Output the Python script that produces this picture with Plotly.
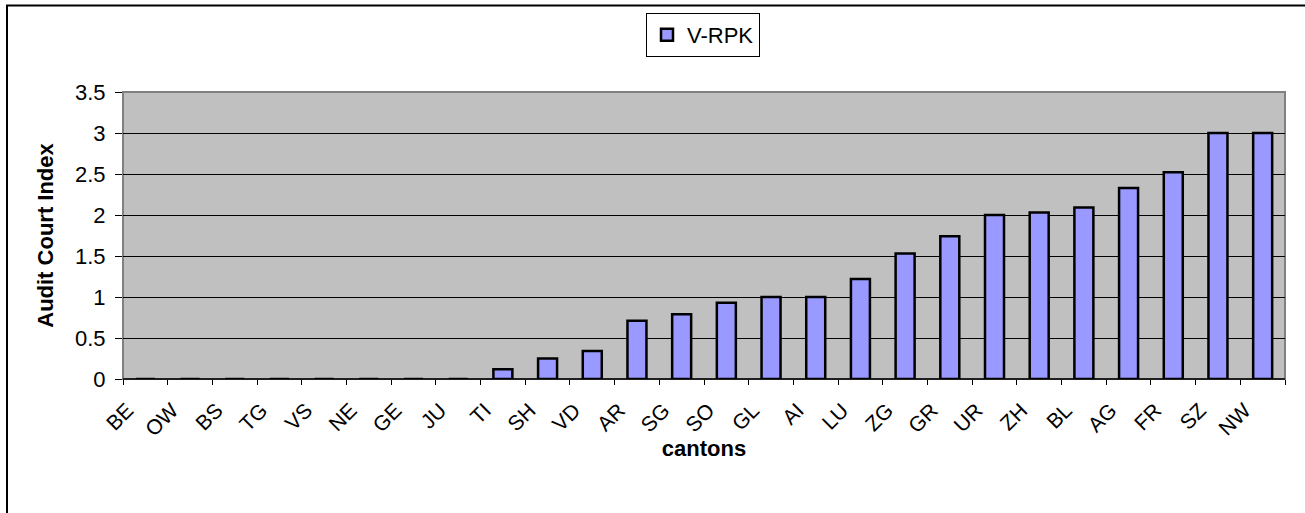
import plotly.graph_objects as go

cantons = ["BE", "OW", "BS", "TG", "VS", "NE", "GE", "JU", "TI", "SH", "VD", "AR", "SG",
           "SO", "GL", "AI", "LU", "ZG", "GR", "UR", "ZH", "BL", "AG", "FR", "SZ", "NW"]
v_rpk = [0, 0, 0, 0, 0, 0, 0, 0, 0.12, 0.25, 0.34, 0.71, 0.79,
         0.93, 1.0, 1.0, 1.22, 1.53, 1.74, 2.0, 2.03, 2.09, 2.33, 2.52, 3.0, 3.0]
y_ticks = [0, 0.5, 1, 1.5, 2, 2.5, 3, 3.5]
y_tick_labels = ["0", "0.5", "1", "1.5", "2", "2.5", "3", "3.5"]

W, H = 1305, 513
L, R, T, B = 123, 20, 92, 134
pw, ph = W - L - R, H - T - B

def px(x):
    return (x - L) / pw

def py(y):
    return (H - B - y) / ph

FONT = "Liberation Sans, Arial, sans-serif"

fig = go.Figure()
fig.add_trace(go.Bar(
    x=cantons, y=v_rpk, name="V-RPK",
    marker=dict(color="#9999FF", line=dict(color="black", width=2.5)),
))

fig.update_layout(
    width=W, height=H,
    margin=dict(l=L, r=R, t=T, b=B, autoexpand=False),
    paper_bgcolor="white",
    plot_bgcolor="#C0C0C0",
    bargap=0.575,
    font=dict(family=FONT, color="black", size=21),
    showlegend=True,
    legend=dict(
        x=px(703), y=py(13), xanchor="center", yanchor="top",
        bordercolor="black", borderwidth=1, bgcolor="white",
        font=dict(size=22),
        itemwidth=30,
    ),
    xaxis=dict(
        type="category",
        tickangle=-45,
        ticks="outside", ticklen=5, tickcolor="black", tickwidth=1,
        tickson="boundaries",
        ticklabelshift=-18,
        ticklabelstandoff=14,
        showline=False,
        showgrid=False,
        tickfont=dict(size=21),
        title=dict(text="<b>cantons</b>", font=dict(size=22), standoff=0),
        automargin=False,
    ),
    yaxis=dict(
        range=[0, 3.5],
        tickvals=y_ticks, ticktext=y_tick_labels,
        ticks="outside", ticklen=7, tickcolor="black", tickwidth=1,
        ticklabelstandoff=5,
        showgrid=True, gridcolor="black", gridwidth=1,
        zeroline=False,
        showline=False,
        tickfont=dict(size=22),
        title=dict(text="<b>Audit Court Index</b>", font=dict(size=22), standoff=15),
        automargin=False,
    ),
    shapes=[
        dict(type="rect", xref="paper", yref="paper", x0=0, x1=1, y0=0, y1=1,
             line=dict(color="#808080", width=2), layer="below"),
        dict(type="line", xref="paper", yref="paper", x0=0, x1=1, y0=0, y1=0,
             line=dict(color="black", width=1.5)),
        dict(type="rect", xref="paper", yref="paper",
             x0=px(7), x1=px(1330), y0=py(540), y1=py(5.5),
             line=dict(color="black", width=2)),
    ],
)

fig.write_html(
    "out.html",
    config={"displayModeBar": False},
    post_script="document.body.style.margin='0';document.body.style.overflow='hidden';",
)
